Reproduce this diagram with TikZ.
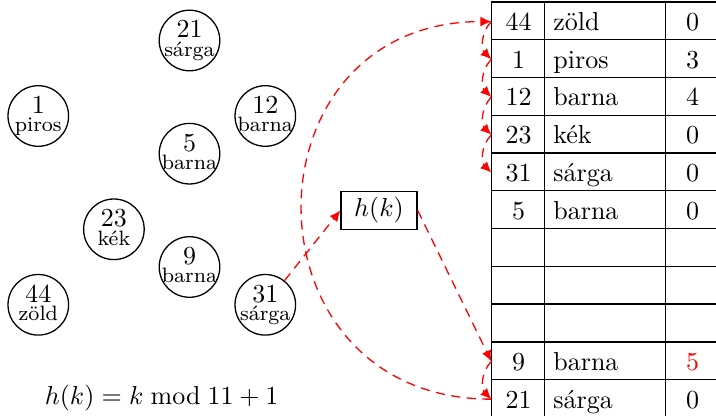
\documentclass[tikz,border=0pt]{standalone}
\usetikzlibrary{arrows.meta}
\newcommand\keylbl[2]{\makebox[0pt]{\raisebox{1pt}[0pt][0pt]{#1}}\makebox[0pt]{\raisebox{-6.15pt}[0pt][0pt]{\footnotesize #2}}}
\begin{document}
\begin{tikzpicture}[x=0.3846pt,y=-0.3846pt,line width=0.5pt,
  key/.style={circle,draw,minimum size=23.3pt,inner sep=0pt},
  cell/.style={rectangle,inner sep=0pt,minimum height=14.52pt,text height=7pt,text depth=0.2pt},
  numcell/.style={cell,minimum width=20.38pt},
  namecell/.style={cell,minimum width=46.54pt,text width=40.1pt,align=left,inner xsep=3.2pt},
  hbox/.style={draw,rectangle,inner sep=0pt,minimum width=29.23pt,minimum height=14.5pt},
  arr/.style={red,dash pattern=on 3.5pt off 2.5pt,-{Latex[length=4.2pt,width=3.8pt]}}]
\useasboundingbox (0,0) rectangle (716,416);
% keys
\node[key] (c21) at (189.5,40.5) {\keylbl{21}{sárga}};
\node[key] (c1) at (38.3,116) {\keylbl{1}{piros}};
\node[key] (c12) at (265.3,116) {\keylbl{12}{barna}};
\node[key] (c5) at (189.5,153.7) {\keylbl{5}{barna}};
\node[key] (c23) at (113.9,229.3) {\keylbl{23}{kék}};
\node[key] (c9) at (189.5,267) {\keylbl{9}{barna}};
\node[key] (c44) at (38.3,304.8) {\keylbl{44}{zöld}};
\node[key] (c31) at (265.3,304.8) {\keylbl{31}{sárga}};
% table
\foreach \i/\k/\n/\l in {0/44/zöld/0, 1/1/piros/3, 2/12/barna/4, 3/23/kék/0, 4/31/sárga/0, 5/5/barna/0, 6/{}/{}/{}, 7/{}/{}/{}, 8/{}/{}/{}, 9/9/barna/{\textcolor{red}{5}}, 10/21/sárga/0}{
  \pgfmathsetmacro\yy{21.58+37.76*\i}
  \node[numcell] (k\i) at (518.5,\yy) {\k};
  \node[namecell] (n\i) at (605.5,\yy) {\n};
  \node[numcell] (v\i) at (692.5,\yy) {\l};
}
\foreach \i in {0,...,10}
  \draw (k\i.north west) -- (v\i.north east);
\draw (k10.south west) -- (v10.south east);
\draw (k0.north west) -- (k10.south west);
\draw (n0.north west) -- (n10.south west);
\draw (v0.north west) -- (v10.south west);
\draw (v0.north east) -- (v10.south east);
% hash box and formula
\node[hbox] (hk) at (379,210.4) {$h(k)$};
\node[anchor=base] (f) at (161.7,404.5) {$h(k)=k \bmod 11+1$};
% arrows
\draw[arr] (c31) -- (hk.west);
\draw[arr] (hk.east) -- (k9.west);
\draw[arr] (k9.west) to[bend right=45] (k10.west);
\draw[arr] (k10.west) .. controls +(-252,0) and +(-252,0) .. (k0.west);
\foreach \a/\b in {0/1,1/2,2/3,3/4}
  \draw[arr] (k\a.west) to[bend right=45] (k\b.west);
\end{tikzpicture}
\end{document}
